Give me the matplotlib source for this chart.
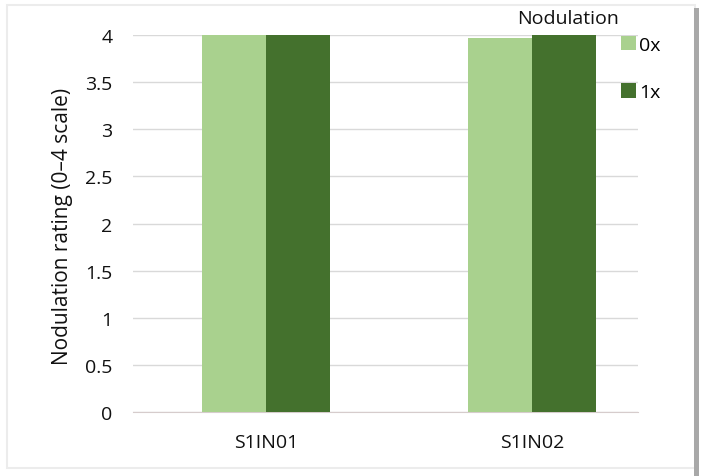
import numpy as np
import matplotlib.pyplot as plt
from matplotlib.patches import Rectangle

samples = ['S1IN01', 'S1IN02']
series = ['0x', '1x']
values_0x = [4.0, 3.97]
values_1x = [4.0, 4.0]
colors = ['#a9d18e', '#44712d']

plt.rcParams['font.family'] = ['Open Sans', 'DejaVu Sans']
fs = 14

fig = plt.figure(figsize=(7.01, 4.77), dpi=100)
ax = fig.add_axes([0.19, 0.134, 0.72, 0.7905])

x = np.arange(len(samples))
width = 0.24
ax.bar(x - width / 2, values_0x, width, color=colors[0], label=series[0], zorder=3)
ax.bar(x + width / 2, values_1x, width, color=colors[1], label=series[1], zorder=3)

ax.set_ylim(0, 4)
ax.set_xlim(-0.5, 1.398)
ax.set_yticks(np.arange(0, 4.01, 0.5))
ax.set_yticklabels(['0', '0.5', '1', '1.5', '2', '2.5', '3', '3.5', '4'])
ax.set_xticks(x)
ax.set_xticklabels(samples)
ax.tick_params(axis='both', length=0, labelsize=fs, colors='#111111')
ax.tick_params(axis='y', pad=15)
ax.tick_params(axis='x', pad=15)
ax.grid(axis='y', color='#d9d9d9', linewidth=1, zorder=0)
for side in ['top', 'right', 'left']:
    ax.spines[side].set_visible(False)
ax.spines['bottom'].set_color('#d6cccc')
ax.set_ylabel('Nodulation rating (0\u20134 scale)', fontsize=15, color='#111111')
ax.yaxis.label.set_va('center')
ax.yaxis.set_label_coords(-0.14, 0.496)

fig.text(568 / 701, 1 - 19 / 477, 'Nodulation', fontsize=fs, ha='center', va='center', color='#111111')
ax.legend(loc='upper left', bbox_to_anchor=(621 / 701, 1 - 37 / 477), bbox_transform=fig.transFigure,
          frameon=False, fontsize=fs, handlelength=0.75, handleheight=0.75, handletextpad=0.2,
          labelspacing=1.5, borderpad=0, borderaxespad=0)

# light frame around the chart
fig.patches.append(Rectangle((7 / 701, 8 / 477), 688 / 701, 463 / 477, transform=fig.transFigure,
                             fill=False, edgecolor='#ececec', linewidth=1.5))
fig.patches.append(Rectangle((694 / 701, 0), 5 / 701, 468 / 477, transform=fig.transFigure,
                             color='#a8a8a8', linewidth=0))

fig.savefig('out.png', dpi=100)
